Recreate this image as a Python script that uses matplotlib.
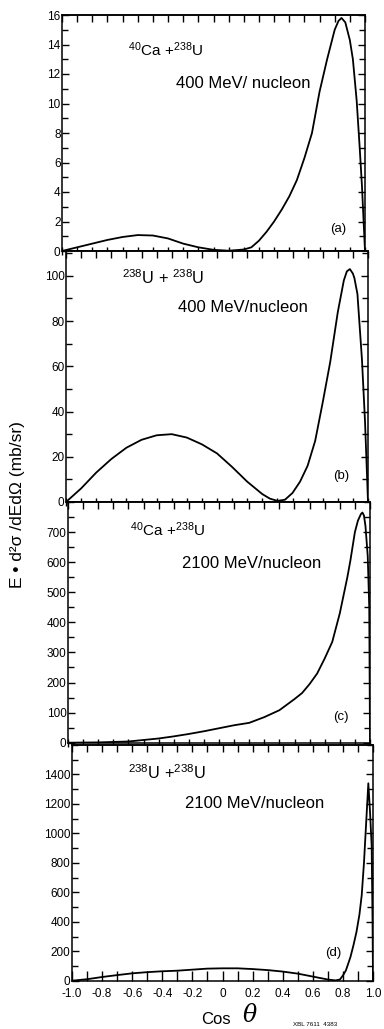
import matplotlib
matplotlib.use("Agg")
import matplotlib.pyplot as plt
from matplotlib.ticker import MultipleLocator, FixedLocator

plt.rcParams['font.family'] = ['Liberation Sans', 'DejaVu Sans']
plt.rcParams['mathtext.fontset'] = 'custom'
plt.rcParams['mathtext.rm'] = 'Liberation Sans'
plt.rcParams['mathtext.it'] = 'Liberation Sans:italic'

# ---- data ----
xa = [-1.0, -0.9, -0.8, -0.7, -0.6, -0.5, -0.4, -0.3, -0.2, -0.1, 0.0, 0.1, 0.2, 0.25,
      0.3, 0.35, 0.4, 0.45, 0.5, 0.55, 0.6, 0.65, 0.7, 0.75, 0.8, 0.825, 0.845, 0.87, 0.9,
      0.92, 0.945, 0.965, 0.98, 0.99, 1.0]
ya = [0.0, 0.25, 0.5, 0.75, 0.95, 1.08, 1.05, 0.85, 0.5, 0.25, 0.08, 0.02, 0.1, 0.25,
      0.7, 1.3, 2.0, 2.8, 3.7, 4.8, 6.3, 8.0, 10.8, 13.0, 15.0, 15.6, 15.8, 15.5, 14.3,
      13.0, 10.2, 7.0, 4.4, 2.2, 0.0]

xb = [-1.0, -0.9, -0.8, -0.7, -0.6, -0.5, -0.4, -0.3, -0.2, -0.1, 0.0, 0.1, 0.2, 0.3,
      0.35, 0.4, 0.45, 0.5, 0.55, 0.6, 0.65, 0.7, 0.75, 0.8, 0.84, 0.86, 0.88, 0.9, 0.91,
      0.93, 0.96, 0.98, 0.99, 1.0]
yb = [0, 6, 13, 19, 24, 27.5, 29.5, 30, 28.5, 25.5, 21.5, 15.5, 9, 3.5,
      1.5, 0.5, 1.0, 4, 9, 16, 27, 44, 62, 84, 98, 102, 103, 101, 99,
      92, 63, 36, 18, 0]

xc = [-1.0, -0.8, -0.6, -0.5, -0.4, -0.3, -0.2, -0.1, 0.0, 0.1, 0.2, 0.3, 0.4, 0.5,
      0.55, 0.6, 0.65, 0.7, 0.75, 0.8, 0.85, 0.87, 0.9, 0.92, 0.94, 0.95, 0.96, 0.97,
      0.985, 0.995, 1.0]
yc = [0, 1, 4, 9, 14, 21, 29, 38, 48, 58, 66, 85, 108, 145,
      165, 195, 230, 280, 335, 430, 550, 605, 700, 738, 760, 765, 755, 720,
      620, 450, 0]

xd = [-1.0, -0.9, -0.8, -0.7, -0.6, -0.5, -0.4, -0.3, -0.2, -0.1, 0.0, 0.1, 0.2, 0.3,
      0.4, 0.5, 0.6, 0.7, 0.75, 0.78, 0.8, 0.82, 0.85, 0.87, 0.89, 0.91, 0.925, 0.94,
      0.955, 0.969, 0.98, 0.991, 0.997, 1.0]
yd = [0, 10, 25, 38, 50, 58, 64, 68, 75, 82, 84, 84, 79, 72,
      62, 48, 28, 8, 2, 8, 35, 70, 160, 240, 330, 450, 580, 800,
      1080, 1340, 1150, 920, 400, 0]

reactions = [r"$^{40}$Ca +$^{238}$U", r"$^{238}$U + $^{238}$U",
             r"$^{40}$Ca +$^{238}$U", r"$^{238}$U +$^{238}$U"]
energies = ["400 MeV/ nucleon", "400 MeV/nucleon", "2100 MeV/nucleon", "2100 MeV/nucleon"]
tags = ["(a)", "(b)", "(c)", "(d)"]
ymax = [16, 111, 800, 1600]
ymajor = [2, 20, 100, 200]
yminor = [1, 10, 50, 100]
ylabels_max = [16, 100, 700, 1400]
xtick_vals = [-1.0, -0.8, -0.6, -0.4, -0.2, 0.0, 0.2, 0.4, 0.6, 0.8, 1.0]
xtick_labels = ["-1.0", "-0.8", "-0.6", "-0.4", "-0.2", "0", "0.2", "0.4", "0.6", "0.8", "1.0"]

W, H = 384, 1029
fig = plt.figure(figsize=(W / 100, H / 100), dpi=100)

# axes boxes in pixels: left, right, top, bottom
boxes = [(62, 365, 15, 251), (66, 368, 251, 502), (68, 370, 502, 742.7), (72, 373, 745, 980.7)]
# text positions in pixels
txt_pos = [((128, 50), (176, 84), (330, 229)),
           ((122, 278), (178, 307), (333, 476)),
           ((130, 530), (182, 563), (333, 717)),
           ((128, 773), (185, 803), (325, 953))]
react_size = [11, 11.8, 11, 11.8]

series = [(xa, ya), (xb, yb), (xc, yc), (xd, yd)]

for i, (l, r, t, b) in enumerate(boxes):
    ax = fig.add_axes([l / W, 1 - b / H, (r - l) / W, (b - t) / H])
    x, y = series[i]
    ax.plot(x, y, color='black', lw=1.3)
    ax.set_xlim(-1.0, 1.0)
    ax.set_ylim(0, ymax[i])
    for s in ax.spines.values():
        s.set_linewidth(1.1)
    ax.xaxis.set_major_locator(FixedLocator(xtick_vals))
    ax.xaxis.set_minor_locator(MultipleLocator(0.1))
    ax.yaxis.set_major_locator(FixedLocator(list(range(0, ylabels_max[i] + 1, ymajor[i]))))
    ax.yaxis.set_minor_locator(MultipleLocator(yminor[i]))
    ax.tick_params(axis='x', which='both', top=False, bottom=True,
                   direction='in' if i == 3 else 'inout', width=1.0,
                   length=7 if i == 3 else 6)
    ax.tick_params(axis='y', which='both', left=True, right=True, direction='in', width=1.0)
    ax.tick_params(axis='y', which='major', length=5, labelsize=8.5, pad=1)
    ax.tick_params(axis='y', which='minor', length=4)
    if i == 3:
        ax.set_xticklabels(xtick_labels)
        ax.tick_params(axis='x', labelsize=8.5, pad=5)
    else:
        ax.tick_params(axis='x', labelbottom=False)
    sec = ax.secondary_xaxis('top')
    sec.xaxis.set_major_locator(FixedLocator(xtick_vals))
    sec.xaxis.set_minor_locator(MultipleLocator(0.1))
    sec.tick_params(axis='x', which='both', direction='in', length=5, width=1.0,
                    labeltop=False)
    sec.spines['top'].set_linewidth(1.1)
    (rx, ry), (ex, ey), (tx, ty) = txt_pos[i]
    fig.text(rx / W, 1 - ry / H, reactions[i], fontsize=react_size[i], ha='left', va='center')
    fig.text(ex / W, 1 - ey / H, energies[i], fontsize=12, ha='left', va='center')
    fig.text(tx / W, 1 - ty / H, tags[i], fontsize=9.5, ha='left', va='center')

fig.text(18 / W, 1 - 505 / H, "E \u2022 d\u00b2\u03c3 /dEd\u03a9 (mb/sr)",
         rotation=90, fontsize=12.5, ha='center', va='center')
fig.text(216 / W, 1 - 1019 / H, "Cos", fontsize=12, ha='center', va='center')
fig.text(250 / W, 1 - 1016 / H, "\u03b8", fontsize=17, style='italic',
         family=['DejaVu Serif'], ha='center', va='center')
fig.text(293 / W, 1 - 1025 / H, "XBL 7611  4383", fontsize=4.5, ha='left', va='center')

fig.savefig("out.png", dpi=100)
